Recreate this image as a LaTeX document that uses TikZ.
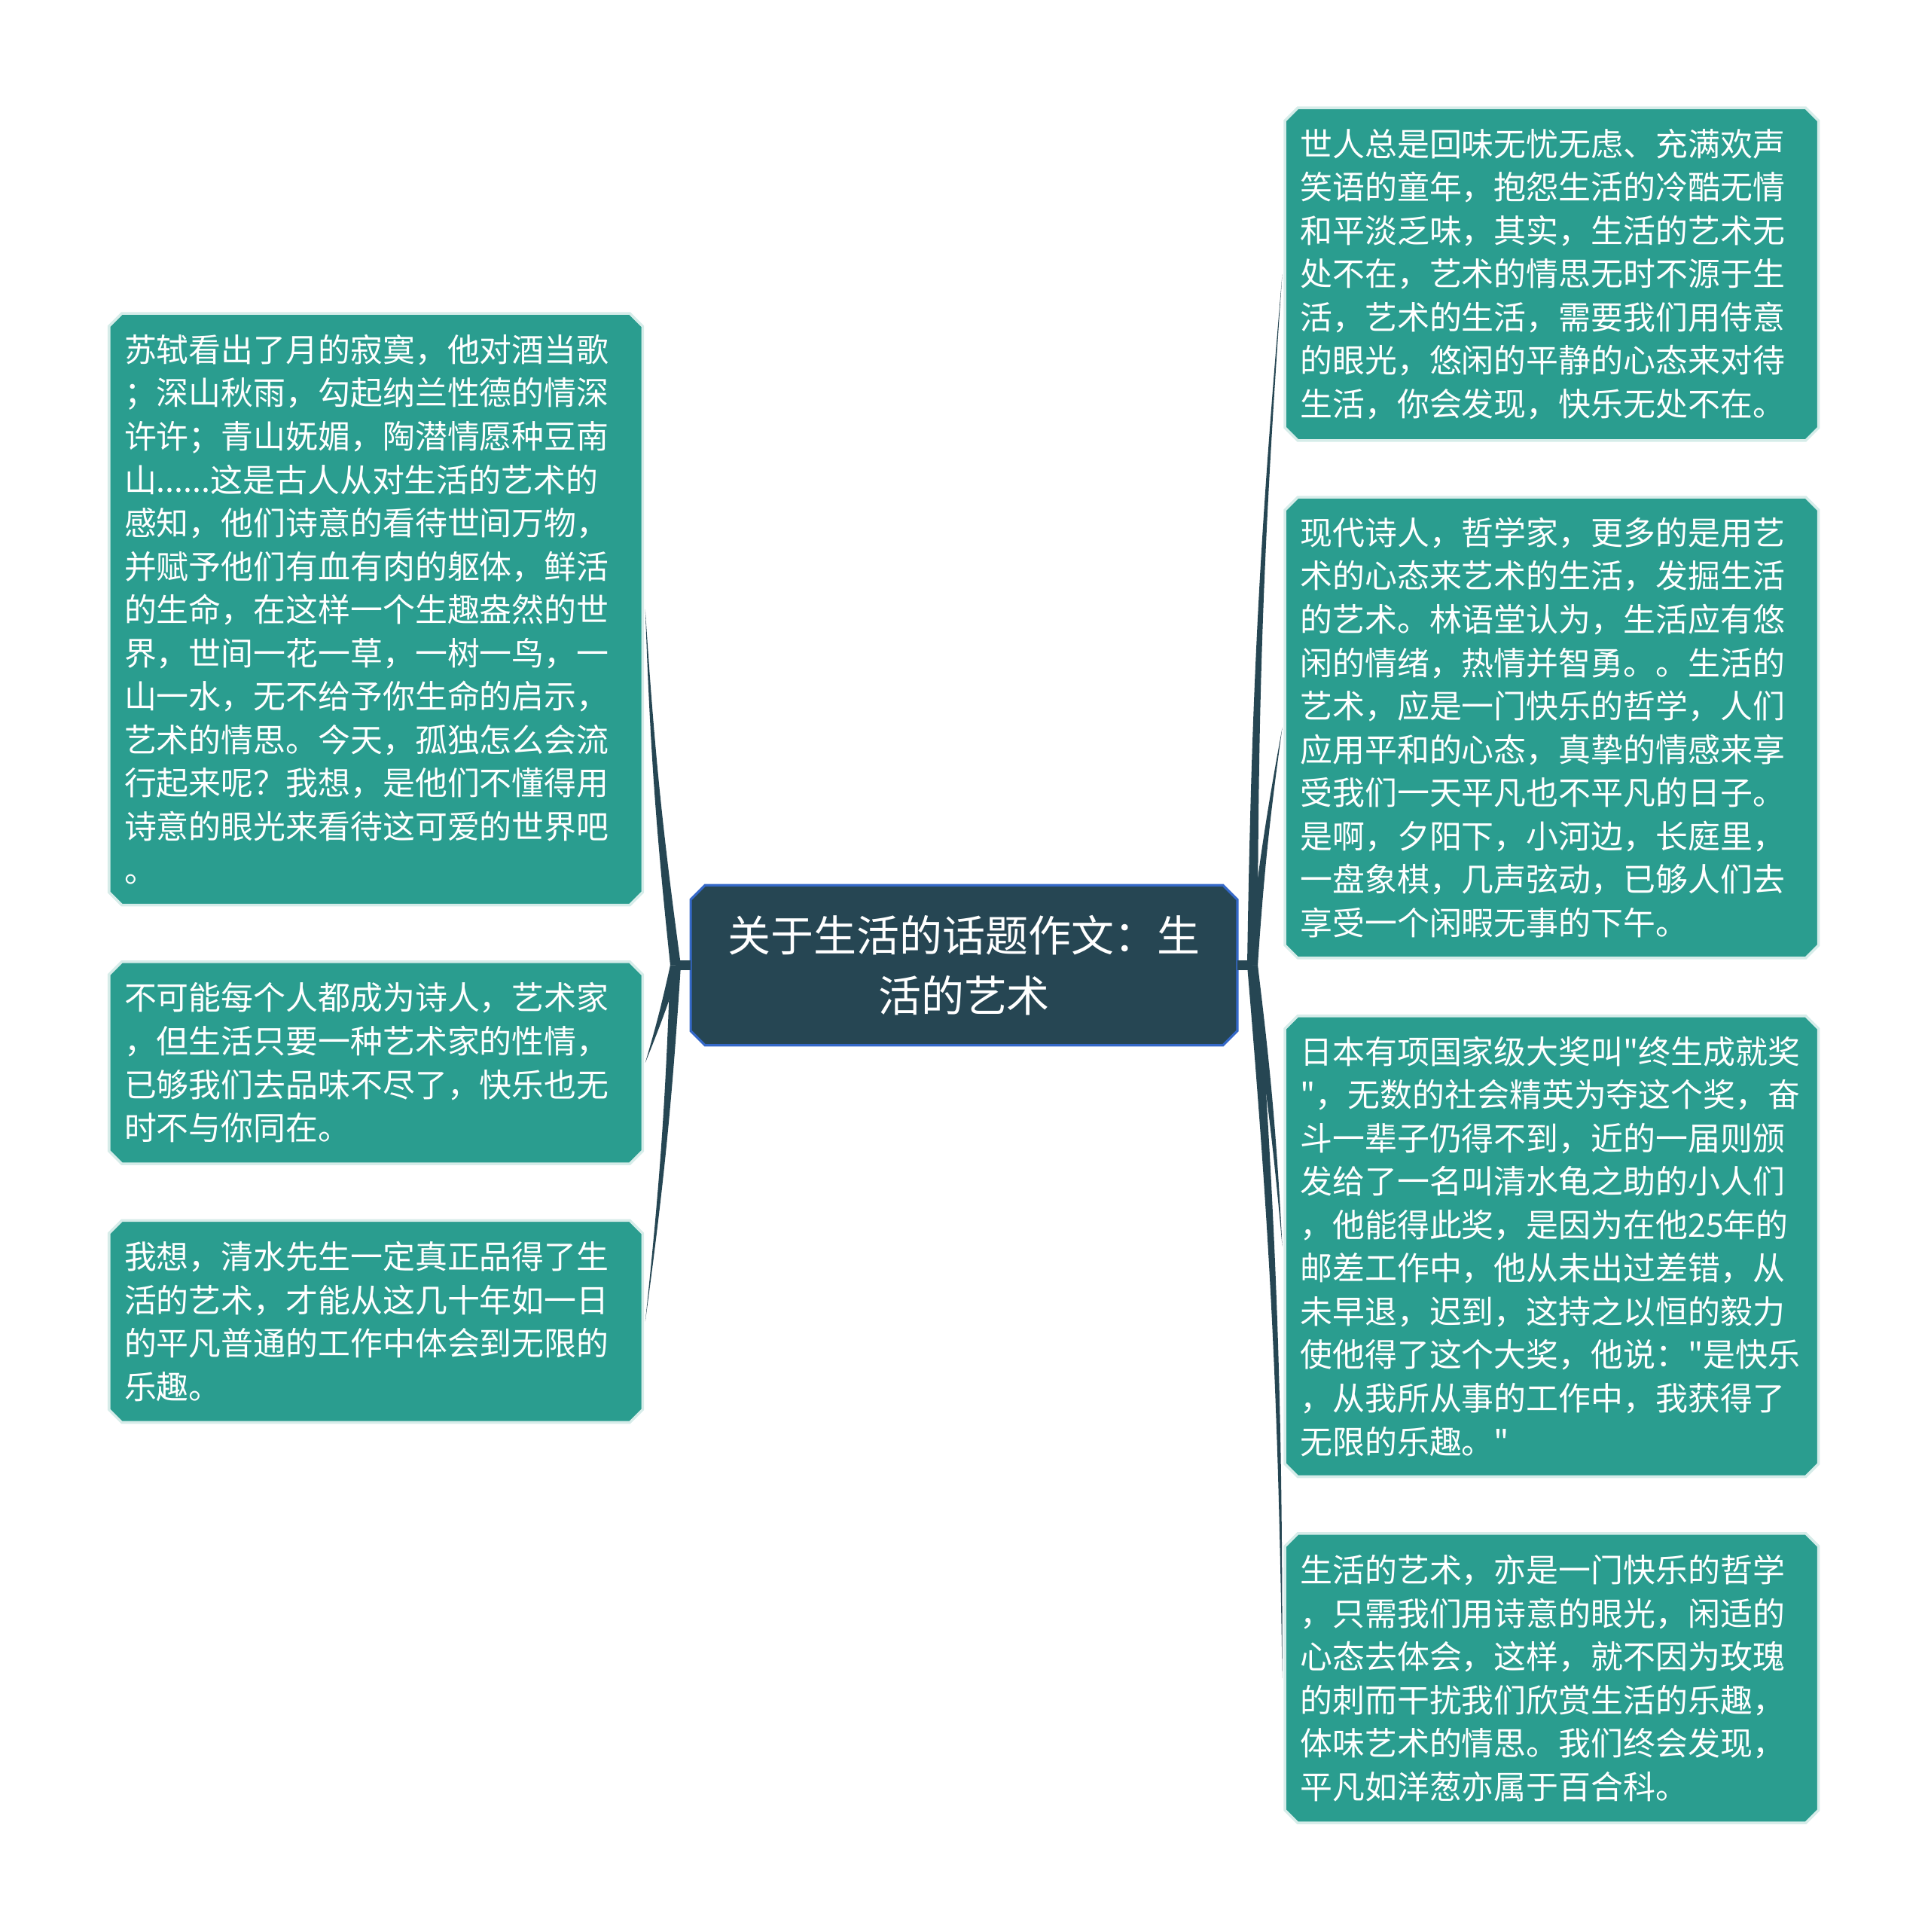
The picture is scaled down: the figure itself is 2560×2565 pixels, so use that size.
\documentclass[tikz,border=0pt]{standalone}
\usepackage{fontspec}
\newfontfamily\cjk{Noto Sans CJK SC}
\usetikzlibrary{backgrounds}
\definecolor{leafc}{HTML}{2A9D8F}
\definecolor{leafedge}{HTML}{D6ECE9}
\definecolor{rootc}{HTML}{264653}
\definecolor{rootedge}{HTML}{3468C8}
\newcommand\drawchamf[4]{% name, fill, draw, chamfer
  \filldraw[fill=#2,draw=#3] ([xshift=#4]#1.north west) -- ([xshift=-#4]#1.north east) -- ([yshift=-#4]#1.north east) -- ([yshift=#4]#1.south east) -- ([xshift=-#4]#1.south east) -- ([xshift=#4]#1.south west) -- ([yshift=#4]#1.south west) -- ([yshift=-#4]#1.north west) -- cycle;}
\begin{document}
\begin{tikzpicture}[x=0.01cm,y=-0.01cm,
  leaf/.style={inner xsep=0.196cm, inner ysep=0cm, text width=6.675cm, minimum width=7.067cm, align=left, text=white, font=\cjk\fontsize{12.2pt}{16.37pt}\selectfont},
  root/.style={inner sep=0cm, align=center, text=white, minimum width=7.24cm, minimum height=2.11cm, font=\cjk\fontsize{16.2pt}{22.76pt}\selectfont},
  stub/.style={rootc, line width=0.13cm}]
\useasboundingbox (0,0) rectangle (2560,2565);

\node[root] (root) at (1280,1281.5) {关于生活的话题作文：生\\活的艺术};

\node[leaf, minimum height=7.836cm] (l1) at (499,808.9) {苏轼看出了月的寂寞，他对酒当歌\\；深山秋雨，勾起纳兰性德的情深\\许许；青山妩媚，陶潜情愿种豆南\\山......这是古人从对生活的艺术的\\感知，他们诗意的看待世间万物，\\并赋予他们有血有肉的躯体，鲜活\\的生命，在这样一个生趣盎然的世\\界，世间一花一草，一树一鸟，一\\山一水，无不给予你生命的启示，\\艺术的情思。今天，孤独怎么会流\\行起来呢？我想，是他们不懂得用\\诗意的眼光来看待这可爱的世界吧\\。};
\node[leaf, minimum height=2.667cm] (l2) at (499,1410.9) {不可能每个人都成为诗人，艺术家\\，但生活只要一种艺术家的性情，\\已够我们去品味不尽了，快乐也无\\时不与你同在。};
\node[leaf, minimum height=2.666cm] (l3) at (499,1754.4) {我想，清水先生一定真正品得了生\\活的艺术，才能从这几十年如一日\\的平凡普通的工作中体会到无限的\\乐趣。};

\node[leaf, minimum height=4.40cm] (r1) at (2060.4,364) {世人总是回味无忧无虑、充满欢声\\笑语的童年，抱怨生活的冷酷无情\\和平淡乏味，其实，生活的艺术无\\处不在，艺术的情思无时不源于生\\活，艺术的生活，需要我们用侍意\\的眼光，悠闲的平静的心态来对待\\生活，你会发现，快乐无处不在。};
\node[leaf, minimum height=6.10cm] (r2) at (2060.4,966) {现代诗人，哲学家，更多的是用艺\\术的心态来艺术的生活，发掘生活\\的艺术。林语堂认为，生活应有悠\\闲的情绪，热情并智勇。。生活的\\艺术，应是一门快乐的哲学，人们\\应用平和的心态，真挚的情感来享\\受我们一天平凡也不平凡的日子。\\是啊，夕阳下，小河边，长庭里，\\一盘象棋，几声弦动，已够人们去\\享受一个闲暇无事的下午。};
\node[leaf, minimum height=6.10cm] (r3) at (2060.4,1654.6) {日本有项国家级大奖叫"终生成就奖\\"，无数的社会精英为夺这个奖，奋\\斗一辈子仍得不到，近的一届则颁\\发给了一名叫清水龟之助的小人们\\，他能得此奖，是因为在他25年的\\邮差工作中，他从未出过差错，从\\未早退，迟到，这持之以恒的毅力\\使他得了这个大奖，他说："是快乐\\，从我所从事的工作中，我获得了\\无限的乐趣。"};
\node[leaf, minimum height=3.827cm] (r4) at (2060.4,2228) {生活的艺术，亦是一门快乐的哲学\\，只需我们用诗意的眼光，闲适的\\心态去体会，这样，就不因为玫瑰\\的刺而干扰我们欣赏生活的乐趣，\\体味艺术的情思。我们终会发现，\\平凡如洋葱亦属于百合科。};

\coordinate (JL) at (897,1281.5);
\coordinate (JR) at (1663,1281.5);

\begin{scope}[on background layer]
  \begin{scope}[line width=0.9pt]
  \drawchamf{root}{rootc}{rootedge}{0.19cm}
  \end{scope}
  \begin{scope}[line width=1pt]
  \drawchamf{l1}{leafc}{leafedge}{0.17cm}
  \drawchamf{l2}{leafc}{leafedge}{0.17cm}
  \drawchamf{l3}{leafc}{leafedge}{0.17cm}
  \drawchamf{r1}{leafc}{leafedge}{0.17cm}
  \drawchamf{r2}{leafc}{leafedge}{0.17cm}
  \drawchamf{r3}{leafc}{leafedge}{0.17cm}
  \drawchamf{r4}{leafc}{leafedge}{0.17cm}
  \end{scope}
  \draw[stub] (root.west) -- (JL);
  \draw[stub] (root.east) -- (JR);
  \foreach \c in {l1,l2,l3}
    \fill[rootc] ([xshift=-0.07cm]JL) to[bend left=2] ([xshift=1pt]\c.east) to[bend right=2] ([xshift=0.07cm]JL) -- cycle;
  \foreach \c in {r1,r2,r3,r4}
    \fill[rootc] ([xshift=-0.07cm]JR) to[bend left=2] ([xshift=-1pt]\c.west) to[bend right=2] ([xshift=0.07cm]JR) -- cycle;
\end{scope}
\end{tikzpicture}
\end{document}
